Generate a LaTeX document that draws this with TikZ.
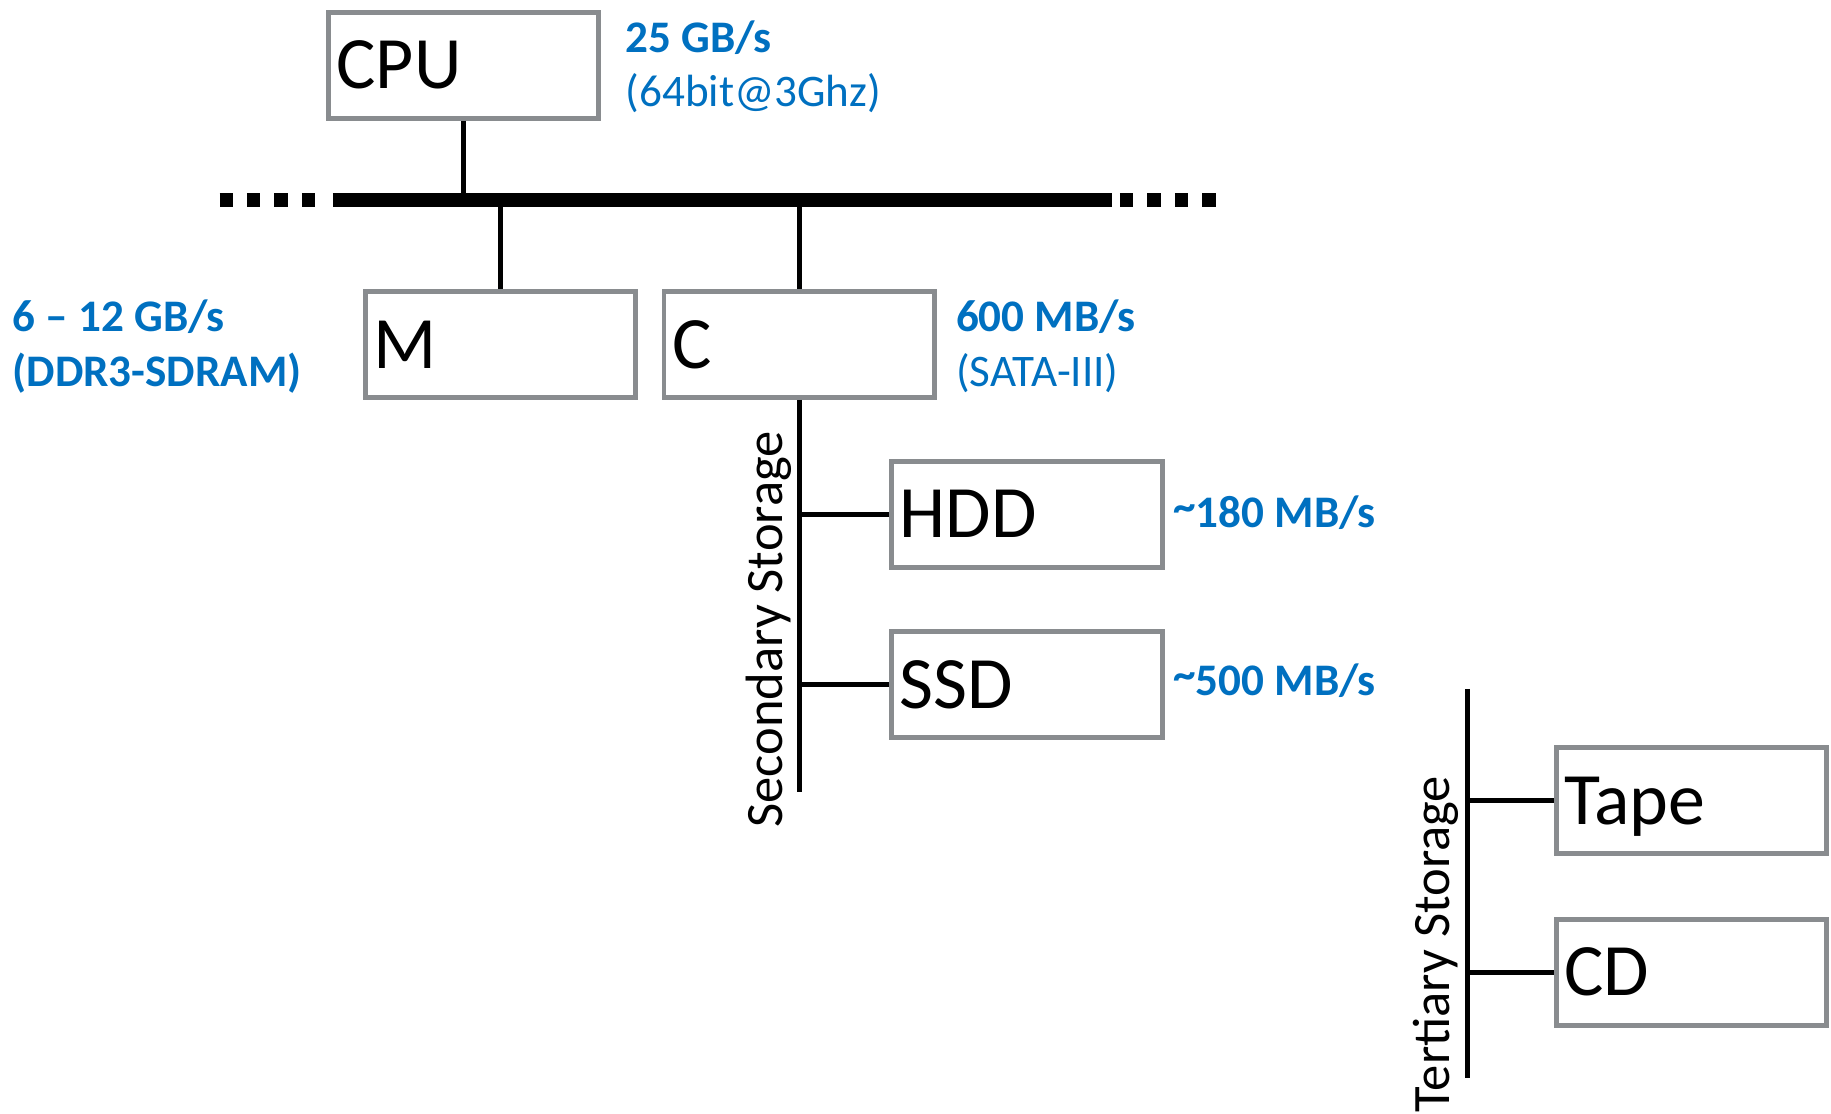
\documentclass[tikz,border=0pt]{standalone}
\usepackage{fontspec}
\setmainfont{Carlito}
\usepackage{tikz}
\usetikzlibrary{positioning}
\definecolor{rateblue}{HTML}{0070C0}
\definecolor{boxgray}{HTML}{898C8F}
\newcommand{\approxsign}{\raisebox{0.15em}{\textasciitilde}}

\begin{document}
\begin{tikzpicture}[
  box/.style={rectangle, draw=boxgray, line width=1.2pt, fill=white,
              minimum width=2.318cm, minimum height=0.908cm,
              text width=2.177cm, inner xsep=2pt, align=left,
              text height=11.5pt, text depth=0pt,
              font=\fontsize{18}{21}\selectfont},
  rate/.style={inner sep=0pt, align=left, text=rateblue, anchor=base west,
               font=\fontsize{11}{13.3}\selectfont},
  tier/.style={inner sep=0pt, rotate=90, anchor=base,
               font=\fontsize{12.8}{15}\selectfont},
  wire/.style={line width=1.2pt},
  bus/.style={line width=3.4pt},
  busdots/.style={line width=3.4pt, dash pattern=on 0.114cm off 0.121cm},
]
\useasboundingbox (0,0) rectangle (15.68,-9.54);

% units and nodes
\node[box] (cpu) at (3.97,-0.56) {CPU};
\node[box] (mem) at (4.285,-2.95) {M};
\node[box, right=0.2cm of mem] (ctrl) {C};
\node[box] (hdd) at (8.795,-4.405) {HDD};
\node[box, below=0.51cm of hdd] (ssd) {SSD};
\node[box] (tape) at (14.485,-6.855) {Tape};
\node[box, below=0.52cm of tape] (cd) {CD};

% bandwidths (base = last line)
\node[rate] (cpubw) at (5.35,-0.915) {\textbf{25 GB/s}\\(64bit@3Ghz)};
\node[rate, font=\fontsize{11}{13.3}\selectfont\bfseries] (membw) at (0.10,-3.31) {6 – 12 GB/s\\(DDR3-SDRAM)};
\node[rate] (ctrlbw) at (8.18,-3.31) {\textbf{600 MB/s}\\(SATA-III)};
\node[rate] (hddbw) at (10.04,-4.52) {\textbf{\approxsign180 MB/s}};
\node[rate] (ssdbw) at (10.04,-5.96) {\textbf{\approxsign500 MB/s}};

\node[tier] (sec) at (6.70,-5.39) {Secondary Storage};
\node[tier] (ter) at (12.41,-8.085) {Tertiary Storage};

% system bus
\coordinate (busW) at (2.85,-1.715);
\coordinate (busE) at (9.52,-1.715);
\coordinate (dotsWa) at (1.88,-1.715);
\coordinate (dotsWb) at (2.70,-1.715);
\coordinate (dotsEa) at (9.59,-1.715);
\coordinate (dotsEb) at (10.41,-1.715);
\draw[bus] (busW) -- (busE);
\draw[busdots] (dotsWa) -- (dotsWb);
\draw[busdots] (dotsEa) -- (dotsEb);

\draw[wire] (cpu.south)  -- (cpu.south |- busW);
\draw[wire] (mem.north)  -- (mem.north |- busW);
\draw[wire] (ctrl.north) -- (ctrl.north |- busW);

% storage lines
\coordinate (secEnd) at (6.845,-6.78);
\coordinate (terTop) at (12.57,-5.90);
\coordinate (terBot) at (12.57,-9.23);
\draw[wire] (ctrl.south) -- (ctrl.south |- secEnd);
\draw[wire] (hdd.west) -- (hdd.west -| ctrl.south);
\draw[wire] (ssd.west) -- (ssd.west -| ctrl.south);
\draw[wire] (terTop) -- (terBot);
\draw[wire] (tape.west) -- (tape.west -| terTop);
\draw[wire] (cd.west) -- (cd.west -| terTop);
\end{tikzpicture}
\end{document}
